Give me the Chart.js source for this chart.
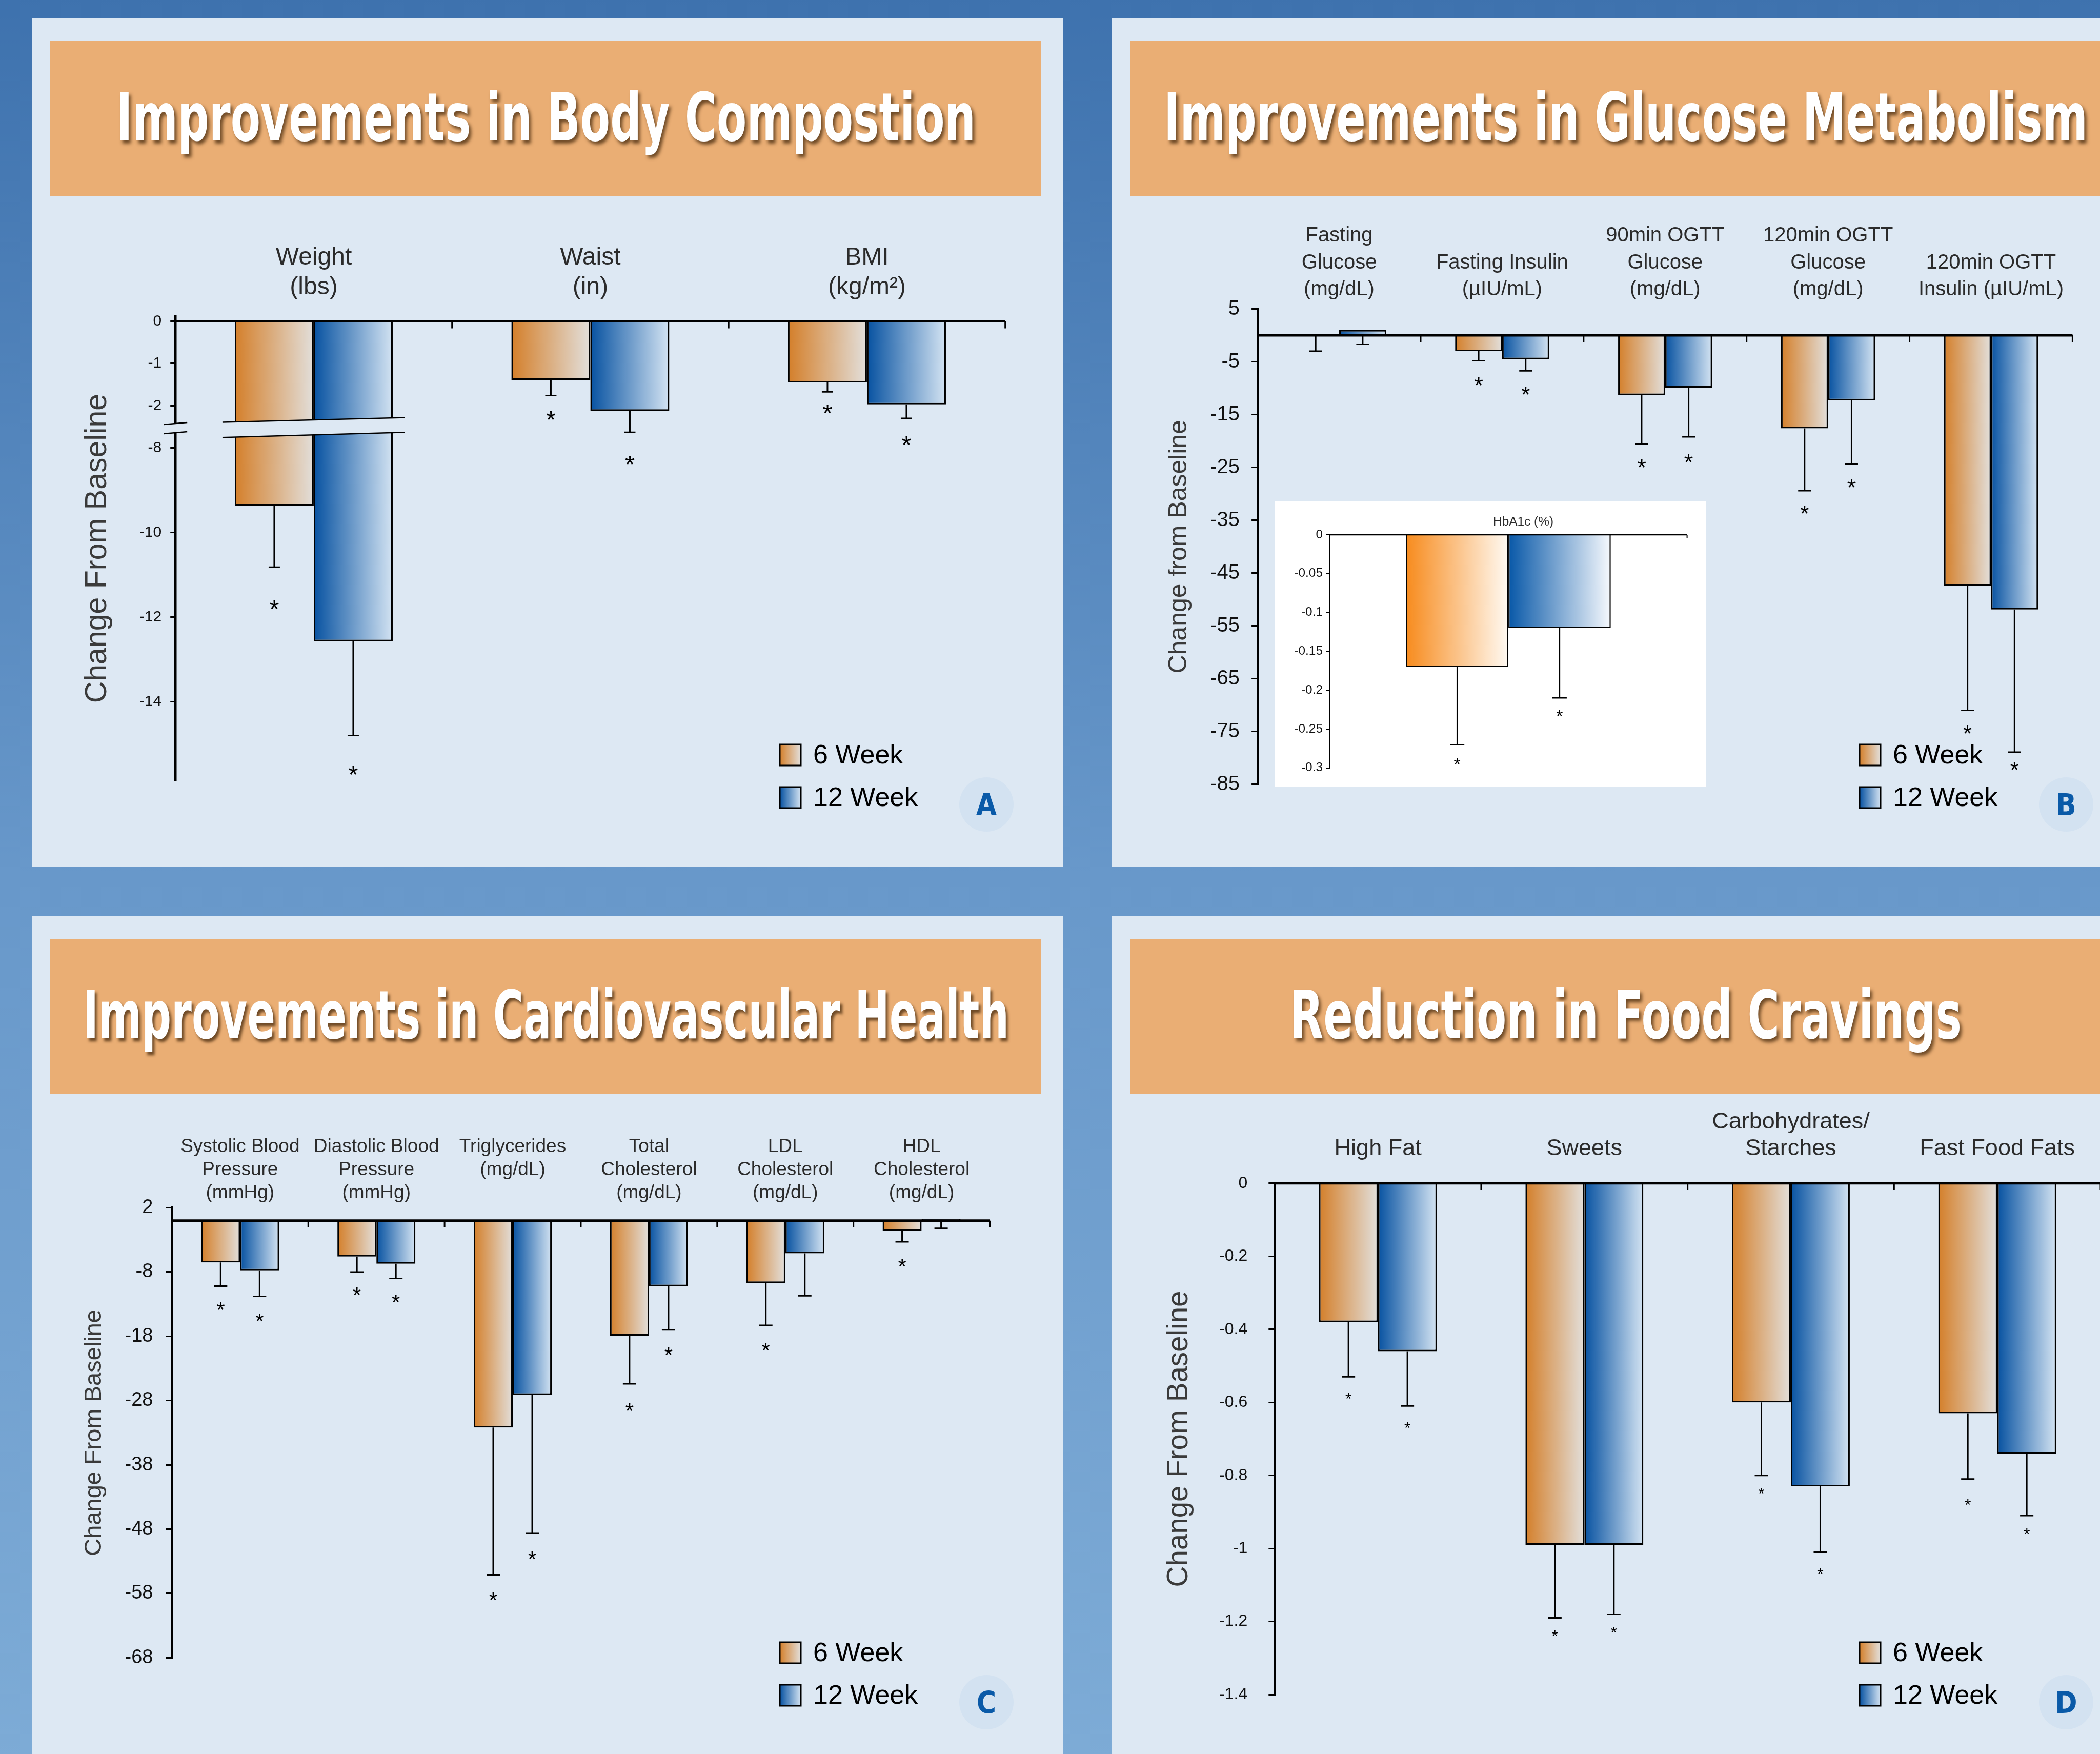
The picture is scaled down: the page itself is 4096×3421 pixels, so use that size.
<!DOCTYPE html>
<html>
<head>
<meta charset="utf-8">
<title>Improvements</title>
<script src="https://cdn.jsdelivr.net/npm/chart.js@4.4.1/dist/chart.umd.min.js"></script>
<style>
  html, body { margin: 0; padding: 0; }
  body {
    width: 4096px; height: 3421px; overflow: hidden; position: relative;
    background: linear-gradient(to bottom, #3e72ae 0%, #6898ca 50%, #7dabd6 100%);
  }
  .panel { position: absolute; width: 2011px; height: 1655px; background: #dde8f3; overflow: hidden; }
  .banner { position: absolute; left: 35px; top: 44px; width: 1933px; height: 303px; background: #eaae74; }
  .banner span {
    position: absolute; left: 50%; top: 84px; white-space: nowrap;
    font-family: "Liberation Sans Narrow", "DejaVu Sans Condensed", "Liberation Sans", sans-serif;
    font-weight: bold; font-size: 130px; line-height: 130px; color: #fff;
    text-shadow: 6px 6px 7px rgba(80, 50, 20, 0.8);
  }
  canvas { position: absolute; left: 0; top: 0; display: block; }
  #hba1c { left: 317px; top: 942px; background: #fff; }
</style>
</head>
<body>
<div class="panel" style="left:63px;top:36px">
  <div class="banner"><span data-w="1676">Improvements in Body Compostion</span></div>
  <canvas id="bodyChart" width="2011" height="1655"></canvas>
</div>
<div class="panel" style="left:2169px;top:36px">
  <div class="banner"><span data-w="1802">Improvements in Glucose Metabolism</span></div>
  <canvas id="glucoseChart" width="2011" height="1655"></canvas>
  <canvas id="hba1c" width="841" height="557"></canvas>
</div>
<div class="panel" style="left:63px;top:1787px">
  <div class="banner"><span data-w="1806">Improvements in Cardiovascular Health</span></div>
  <canvas id="cardioChart" width="2011" height="1655"></canvas>
</div>
<div class="panel" style="left:2169px;top:1787px">
  <div class="banner"><span data-w="1310">Reduction in Food Cravings</span></div>
  <canvas id="cravingChart" width="2011" height="1655"></canvas>
</div>

<script>
const seriesNames = ['6 Week', '12 Week'];

// A - body composition (axis is cut between -2 and -8)
const bodyLabels = [['Weight', '(lbs)'], ['Waist', '(in)'], ['BMI', '(kg/m²)']];
const body6 = [-9.36, -1.39, -1.45];
const body12 = [-12.57, -2.12, -1.97];
const body6Err = [-10.82, -1.76, -1.67];
const body12Err = [-14.8, -2.63, -2.3];
const body6Star = [-11.67, -2.19, -2.03];
const body12Star = [-15.58, -3.24, -2.78];
const bodyTicks = [0, -1, -2, -8, -10, -12, -14];

// B - glucose metabolism
const glucoseLabels = [['Fasting', 'Glucose', '(mg/dL)'], ['Fasting Insulin', '(µIU/mL)'], ['90min OGTT', 'Glucose', '(mg/dL)'], ['120min OGTT', 'Glucose', '(mg/dL)'], ['120min OGTT', 'Insulin (µIU/mL)']];
const glucose6 = [0, -3.0, -11.3, -17.6, -47.4];
const glucose12 = [1.0, -4.5, -9.9, -12.3, -51.9];
const glucose6Err = [-3.0, -4.8, -20.6, -29.4, -71.0];
const glucose12Err = [-1.7, -6.7, -19.2, -24.3, -78.9];
const glucose6Star = [null, -8.5, -24.0, -32.7, -74.4];
const glucose12Star = [null, -10.2, -23.0, -27.8, -81.3];
const glucoseTicks = [5, -5, -15, -25, -35, -45, -55, -65, -75, -85];

// B inset - HbA1c
const hba1cLabels = ['HbA1c (%)'];
const hba1c6 = [-0.17];
const hba1c12 = [-0.12];
const hba1c6Err = [-0.27];
const hba1c12Err = [-0.21];
const hba1c6Star = [-0.29];
const hba1c12Star = [-0.228];
const hba1cTicks = [0, -0.05, -0.1, -0.15, -0.2, -0.25, -0.3];

// C - cardiovascular health
const cardioLabels = [['Systolic Blood', 'Pressure', '(mmHg)'], ['Diastolic Blood', 'Pressure', '(mmHg)'], ['Triglycerides', '(mg/dL)', ''], ['Total', 'Cholesterol', '(mg/dL)'], ['LDL', 'Cholesterol', '(mg/dL)'], ['HDL', 'Cholesterol', '(mg/dL)']];
const cardio6 = [-6.5, -5.6, -32.2, -17.9, -9.7, -1.6];
const cardio12 = [-7.75, -6.7, -27.1, -10.2, -5.1, 0.3];
const cardio6Err = [-10.2, -8.0, -55.1, -25.4, -16.3, -3.3];
const cardio12Err = [-11.8, -9.0, -48.6, -17.0, -11.7, -1.2];
const cardio6Star = [-13.1, -10.8, -58.3, -28.8, -19.4, -6.3];
const cardio12Star = [-14.9, -11.9, -51.9, -20.1, null, null];
const cardioTicks = [2, -8, -18, -28, -38, -48, -58, -68];

// D - food cravings
const cravingLabels = ['High Fat', 'Sweets', ['Carbohydrates/', 'Starches'], 'Fast Food Fats'];
const craving6 = [-0.38, -0.99, -0.60, -0.63];
const craving12 = [-0.46, -0.99, -0.83, -0.74];
const craving6Err = [-0.53, -1.19, -0.80, -0.81];
const craving12Err = [-0.61, -1.18, -1.01, -0.91];
const craving6Star = [-0.58, -1.23, -0.84, -0.87];
const craving12Star = [-0.66, -1.22, -1.06, -0.95];
const cravingTicks = [0, -0.2, -0.4, -0.6, -0.8, -1, -1.2, -1.4];

const FONT = '"Liberation Sans", Arial, sans-serif';
const BADGE_FONT = '"Liberation Sans Narrow", "DejaVu Sans Condensed", "Liberation Sans", sans-serif';
const PANEL_BG = '#dde8f3';
const mainGrads = [['#d47f2a', '#e2dfdb'], ['#0752a1', '#d3e3f2']];
const insetGrads = [['#f78b1d', '#fffaf3'], ['#0858a8', '#f6f9fd']];

// squeeze the banner titles to the widths in the picture
document.querySelectorAll('.banner span').forEach(s => {
  const w = s.getBoundingClientRect().width;
  s.style.transform = `translateX(-50%) scaleX(${s.dataset.w / w})`;
});

// horizontal gradient for every bar
const gradientBars = {
  id: 'gradientBars',
  beforeDatasetsDraw(chart) {
    const ctx = chart.ctx;
    chart.data.datasets.forEach((ds, i) => {
      chart.getDatasetMeta(i).data.forEach(bar => {
        const g = ctx.createLinearGradient(bar.x - bar.width / 2, 0, bar.x + bar.width / 2, 0);
        g.addColorStop(0, ds.grad[0]);
        g.addColorStop(1, ds.grad[1]);
        bar.options.backgroundColor = g;
      });
    });
  }
};

// the cut in the weight axis
const axisBreak = {
  id: 'axisBreak',
  afterDatasetsDraw(chart, args, o) {
    const { ctx, chartArea: a, scales: { y } } = chart;
    const py = v => y.getPixelForValue(v);
    const bars = chart.data.datasets.map((ds, i) => chart.getDatasetMeta(i).data[0]);
    const last = bars[bars.length - 1];
    const x0 = bars[0].x - bars[0].width / 2 - o.overhang;
    const x1 = last.x + last.width / 2 + o.overhang;
    ctx.save();
    ctx.fillStyle = PANEL_BG;
    ctx.beginPath();
    ctx.moveTo(x0, py(o.upper[0])); ctx.lineTo(x1, py(o.upper[1]));
    ctx.lineTo(x1, py(o.lower[1])); ctx.lineTo(x0, py(o.lower[0]));
    ctx.closePath();
    ctx.fill();
    ctx.strokeStyle = '#000';
    ctx.lineWidth = 2.5;
    ctx.beginPath();
    ctx.moveTo(x0, py(o.upper[0])); ctx.lineTo(x1, py(o.upper[1]));
    ctx.moveTo(x0, py(o.lower[0])); ctx.lineTo(x1, py(o.lower[1]));
    ctx.stroke();
    const ax = a.left;
    const m0 = py(o.marks[0]), m1 = py(o.marks[1]);
    ctx.fillRect(ax - 6, m0, 12, m1 - m0);
    ctx.beginPath();
    ctx.moveTo(ax - 23, m0 + 2); ctx.lineTo(ax + 23, m0 - 2);
    ctx.moveTo(ax - 23, m1 + 2); ctx.lineTo(ax + 23, m1 - 2);
    ctx.stroke();
    ctx.restore();
  }
};

// baseline at zero with small ticks between the groups
const zeroLine = {
  id: 'zeroLine',
  afterDatasetsDraw(chart, args, o) {
    const { ctx, chartArea: a, scales: { y } } = chart;
    const y0 = y.getPixelForValue(0);
    const n = chart.data.labels.length;
    const w = (a.right - a.left) / n;
    ctx.save();
    ctx.strokeStyle = '#000';
    ctx.lineWidth = o.width;
    ctx.beginPath(); ctx.moveTo(a.left, y0); ctx.lineTo(a.right, y0); ctx.stroke();
    ctx.lineWidth = o.tickWidth;
    ctx.beginPath();
    for (let i = 1; i <= n; i++) {
      ctx.moveTo(a.left + i * w, y0); ctx.lineTo(a.left + i * w, y0 + o.tick);
    }
    ctx.stroke();
    ctx.restore();
  }
};

// one-sided error bars and significance stars
const errorBars = {
  id: 'errorBars',
  afterDatasetsDraw(chart, args, o) {
    const { ctx, scales: { y } } = chart;
    ctx.save();
    ctx.strokeStyle = '#000';
    ctx.fillStyle = '#000';
    ctx.lineWidth = o.lineWidth;
    ctx.font = `${o.starSize}px ${FONT}`;
    ctx.textAlign = 'center';
    ctx.textBaseline = 'alphabetic';
    chart.data.datasets.forEach((ds, i) => {
      chart.getDatasetMeta(i).data.forEach((bar, j) => {
        const x = bar.x;
        if (ds.err[j] != null) {
          const y0 = Math.max(bar.y, bar.base);
          const y1 = y.getPixelForValue(ds.err[j]);
          ctx.beginPath();
          ctx.moveTo(x, y0); ctx.lineTo(x, y1);
          ctx.moveTo(x - o.cap / 2, y1); ctx.lineTo(x + o.cap / 2, y1);
          ctx.stroke();
        }
        if (ds.star[j] != null) {
          ctx.fillText('*', x, y.getPixelForValue(ds.star[j]) + 0.57 * o.starSize);
        }
      });
    });
    ctx.restore();
  }
};

// legend swatches in the lower right corner and the panel letter
const panelLegend = {
  id: 'panelLegend',
  afterDraw(chart, args, o) {
    const ctx = chart.ctx;
    ctx.save();
    chart.data.datasets.forEach((ds, i) => {
      const top = o.y + i * o.gap;
      const g = ctx.createLinearGradient(o.x, 0, o.x + o.size, 0);
      g.addColorStop(0, ds.grad[0]);
      g.addColorStop(1, ds.grad[1]);
      ctx.fillStyle = g;
      ctx.fillRect(o.x, top, o.size, o.size);
      ctx.lineWidth = 3;
      ctx.strokeStyle = '#000';
      ctx.strokeRect(o.x, top, o.size, o.size);
      ctx.fillStyle = '#000';
      ctx.font = `${o.font}px ${FONT}`;
      ctx.textAlign = 'left';
      ctx.textBaseline = 'middle';
      ctx.fillText(ds.label, o.textX, top + o.size / 2 + 2);
    });
    ctx.fillStyle = '#d3e2f1';
    ctx.beginPath();
    ctx.arc(o.badgeX, o.badgeY, o.badgeR, 0, Math.PI * 2);
    ctx.fill();
    ctx.fillStyle = '#0a5aa8';
    ctx.font = `bold ${o.badgeFont}px ${BADGE_FONT}`;
    ctx.textAlign = 'center';
    ctx.textBaseline = 'alphabetic';
    ctx.fillText(o.badge, o.badgeX, o.badgeY + 0.36 * o.badgeFont);
    ctx.restore();
  }
};

const legendPos = { x: 1458, y: 1416, size: 41, gap: 83, textX: 1523, font: 52, badgeX: 1861, badgeY: 1533, badgeR: 53, badgeFont: 58 };

function makeChart(id, c) {
  const f = c.toAxis || (v => v);
  const g = v => (v == null ? null : f(v));
  const series = [[c.v6, c.e6, c.s6], [c.v12, c.e12, c.s12]];
  const datasets = series.map((s, i) => ({
    label: seriesNames[i],
    data: s[0].map(g),
    err: s[1].map(g),
    star: s[2].map(g),
    grad: c.grads[i],
    categoryPercentage: c.cat,
    barPercentage: 1,
    borderColor: '#000',
    borderWidth: c.barBorder,
    backgroundColor: () => '#999'
  }));
  return new Chart(document.getElementById(id), {
    type: 'bar',
    data: { labels: c.labels, datasets },
    options: {
      responsive: false,
      animation: false,
      events: [],
      layout: { padding: { left: 0, top: 0, right: c.padR, bottom: c.padB } },
      scales: {
        x: {
          position: 'top',
          grid: { display: false, drawTicks: false },
          border: { display: false },
          ticks: {
            autoSkip: false, maxRotation: 0, minRotation: 0,
            padding: c.xPad, labelOffset: c.labelOffset || 0, color: '#2b2b2b',
            font: { family: FONT, size: c.xFont, lineHeight: c.xLine }
          },
          afterFit: s => { s.height = c.top; }
        },
        y: {
          min: c.min,
          max: c.max,
          afterBuildTicks: s => { s.ticks = c.ticks.map(v => ({ value: f(v) })); },
          afterFit: s => { s.width = c.left; },
          grid: { drawOnChartArea: false, drawTicks: true, tickLength: c.tickLen, color: '#000', lineWidth: c.tickW },
          border: { display: true, color: '#000', width: c.axisW },
          ticks: {
            autoSkip: false, padding: c.yPad, color: '#111',
            font: { family: FONT, size: c.yFont },
            callback: v => String(+(c.fromAxis ? c.fromAxis(v) : v).toFixed(2))
          },
          title: c.title
            ? { display: true, text: c.title, color: '#3a3a3a', font: { family: FONT, size: c.titleFont }, padding: { top: c.titlePad, bottom: 0 } }
            : { display: false }
        }
      },
      plugins: {
        colors: { enabled: false },
        legend: { display: false },
        tooltip: { enabled: false },
        axisBreak: c.brk || false,
        zeroLine: { width: c.zeroW, tickWidth: c.tickW, tick: c.zeroTick },
        errorBars: { lineWidth: c.errW, cap: c.cap, starSize: c.star },
        panelLegend: c.badge ? { ...legendPos, badge: c.badge } : false
      }
    },
    plugins: [gradientBars, axisBreak, zeroLine, errorBars, panelLegend]
  });
}

makeChart('bodyChart', {
  labels: bodyLabels, v6: body6, v12: body12, e6: body6Err, e12: body12Err, s6: body6Star, s12: body12Star,
  ticks: bodyTicks, min: -10.85, max: 0.1,
  toAxis: v => (v < -5 ? v + 5 : v),
  fromAxis: d => (d < -2.5 ? d - 5 : d),
  brk: { upper: [-2.39, -2.28], lower: [-2.75, -2.63], marks: [-2.42, -2.64], overhang: 24 },
  grads: mainGrads,
  top: 582.2, left: 279.2, padR: 113.3, padB: 170,
  xFont: 48, xLine: 1.2, xPad: 28.8,
  yFont: 30, tickLen: 10, yPad: 17, tickW: 3, axisW: 5.5,
  title: 'Change From Baseline', titleFont: 59, titlePad: 92.6,
  cat: 0.571, barBorder: 3, errW: 3, cap: 22, star: 49, zeroW: 5, zeroTick: 14,
  badge: 'A'
});

makeChart('glucoseChart', {
  labels: glucoseLabels, v6: glucose6, v12: glucose12, e6: glucose6Err, e12: glucose12Err, s6: glucose6Star, s12: glucose12Star,
  ticks: glucoseTicks, min: -85, max: 5,
  grads: mainGrads,
  top: 566.6, left: 284.1, padR: 137.6, padB: 161.2,
  xFont: 40, xLine: 1.32, xPad: 10.75,
  yFont: 40, tickLen: 12, yPad: 23, tickW: 3, axisW: 4.5,
  title: 'Change from Baseline', titleFont: 50, titlePad: 101,
  cat: 0.577, barBorder: 3, errW: 3, cap: 25, star: 45, zeroW: 5, zeroTick: 13,
  badge: 'B'
});

makeChart('hba1c', {
  labels: hba1cLabels, v6: hba1c6, v12: hba1c12, e6: hba1c6Err, e12: hba1c12Err, s6: hba1c6Star, s12: hba1c12Star,
  ticks: hba1cTicks, min: -0.3, max: 0,
  grads: insetGrads,
  top: 65, left: 107.5, padR: 36.4, padB: 37.4,
  xFont: 24.4, xLine: 1.2, xPad: 10.4, labelOffset: 29,
  yFont: 24.4, tickLen: 7, yPad: 6.5, tickW: 2, axisW: 2.5,
  cat: 0.573, barBorder: 2.5, errW: 2.5, cap: 28, star: 34, zeroW: 2.5, zeroTick: 7
});

makeChart('cardioChart', {
  labels: cardioLabels, v6: cardio6, v12: cardio12, e6: cardio6Err, e12: cardio12Err, s6: cardio6Star, s12: cardio12Star,
  ticks: cardioTicks, min: -68, max: 2,
  grads: mainGrads,
  top: 568.6, left: 272.4, padR: 143.5, padB: 208.9,
  xFont: 37, xLine: 1.213, xPad: 6.75,
  yFont: 38, tickLen: 12, yPad: 25, tickW: 3, axisW: 4.5,
  title: 'Change From Baseline', titleFont: 47, titlePad: 93.1,
  cat: 0.572, barBorder: 3, errW: 3, cap: 26, star: 42, zeroW: 5, zeroTick: 13,
  badge: 'C'
});

makeChart('cravingChart', {
  labels: cravingLabels, v6: craving6, v12: craving12, e6: craving6Err, e12: craving12Err, s6: craving6Star, s12: craving12Star,
  ticks: cravingTicks, min: -1.4, max: 0,
  grads: mainGrads,
  top: 520.8, left: 317.3, padR: 83, padB: 136.9,
  xFont: 45, xLine: 1.149, xPad: 41.55,
  yFont: 32, tickLen: 12, yPad: 41, tickW: 3, axisW: 4.5,
  title: 'Change From Baseline', titleFont: 56.5, titlePad: 97.1,
  cat: 0.571, barBorder: 3, errW: 3, cap: 26, star: 32, zeroW: 5, zeroTick: 13,
  badge: 'D'
});
</script>
</body>
</html>
